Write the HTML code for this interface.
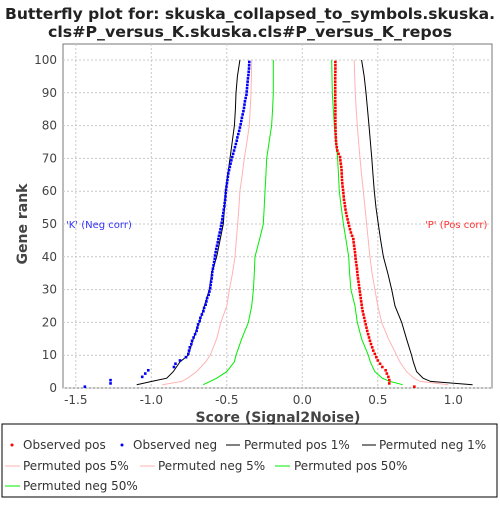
<!DOCTYPE html>
<html><head><meta charset="utf-8"><style>
body{margin:0;background:#fff;}
svg text{font-family:"DejaVu Sans","Liberation Sans",sans-serif;}
</style></head><body>
<svg id="chart" width="500" height="500" xmlns="http://www.w3.org/2000/svg">
<text x="250" y="19" text-anchor="middle" font-size="15" font-weight="bold" fill="#222" textLength="490" lengthAdjust="spacingAndGlyphs">Butterfly plot for: skuska_collapsed_to_symbols.skuska.</text>
<text x="250" y="37" text-anchor="middle" font-size="15" font-weight="bold" fill="#222" textLength="404" lengthAdjust="spacingAndGlyphs">cls#P_versus_K.skuska.cls#P_versus_K_repos</text>
<rect x="63" y="44" width="429" height="344" fill="#fff" stroke="#777"/>
<g id="grid"></g><g id="series"></g><g id="axes"></g>
<text x="66" y="228" font-size="10" fill="#3333ff">'K' (Neg corr)</text>
<text x="425" y="228" font-size="10" fill="#ff3333">'P' (Pos corr)</text>
<text x="278" y="422" text-anchor="middle" font-size="14" font-weight="bold" fill="#444">Score (Signal2Noise)</text>
<text transform="translate(27,224) rotate(-90)" text-anchor="middle" font-size="14" font-weight="bold" fill="#444">Gene rank</text>
<g>
<rect x="2" y="424" width="495" height="73" fill="#fff" stroke="#000"/>
<g><circle cx="12" cy="445" r="1.5" fill="red"/><text x="23" y="449" font-size="12" fill="#333">Observed pos</text></g>
<g><circle cx="122" cy="445" r="1.5" fill="blue"/><text x="133" y="449" font-size="12" fill="#333">Observed neg</text></g>
<g><line x1="226" y1="445" x2="240" y2="445" stroke="#000"/><text x="244" y="449" font-size="12" fill="#333">Permuted pos 1%</text></g>
<g><line x1="362" y1="445" x2="376" y2="445" stroke="#000"/><text x="379" y="449" font-size="12" fill="#333">Permuted neg 1%</text></g>
<g><line x1="5" y1="466" x2="20" y2="466" stroke="#ffb3b3"/><text x="23" y="470" font-size="12" fill="#333">Permuted pos 5%</text></g>
<g><line x1="140" y1="466" x2="155" y2="466" stroke="#ffb3b3"/><text x="158" y="470" font-size="12" fill="#333">Permuted neg 5%</text></g>
<g><line x1="275" y1="466" x2="290" y2="466" stroke="#00ee00"/><text x="294" y="470" font-size="12" fill="#333">Permuted pos 50%</text></g>
<g><line x1="5" y1="486" x2="20" y2="486" stroke="#00ee00"/><text x="23" y="490" font-size="12" fill="#333">Permuted neg 50%</text></g>
</g>
</svg>
<script>
const xTicks=[-1.5,-1.0,-0.5,0.0,0.5,1.0];
const yTicks=[0,10,20,30,40,50,60,70,80,90,100];
const observedNeg=[-1.44,-1.27,-1.27,-1.06,-1.04,-1.02,-0.85,-0.84,-0.81,-0.77,-0.755,-0.75,-0.745,-0.735,-0.73,-0.72,-0.71,-0.70,-0.695,-0.69,-0.68,-0.675,-0.665,-0.655,-0.65,-0.64,-0.635,-0.63,-0.62,-0.615,-0.61,-0.607,-0.604,-0.60,-0.598,-0.596,-0.592,-0.588,-0.584,-0.58,-0.578,-0.574,-0.57,-0.565,-0.56,-0.556,-0.552,-0.547,-0.542,-0.538,-0.534,-0.53,-0.527,-0.523,-0.52,-0.516,-0.514,-0.511,-0.509,-0.507,-0.505,-0.502,-0.499,-0.496,-0.493,-0.49,-0.485,-0.48,-0.475,-0.47,-0.464,-0.458,-0.452,-0.446,-0.44,-0.434,-0.43,-0.424,-0.418,-0.413,-0.408,-0.404,-0.40,-0.395,-0.39,-0.386,-0.383,-0.38,-0.375,-0.37,-0.368,-0.366,-0.364,-0.362,-0.36,-0.357,-0.355,-0.353,-0.352,-0.351];
const observedPos=[0.742,0.576,0.576,0.57,0.56,0.552,0.53,0.515,0.5,0.49,0.48,0.47,0.463,0.455,0.448,0.442,0.436,0.43,0.425,0.42,0.415,0.41,0.405,0.40,0.396,0.393,0.39,0.387,0.384,0.381,0.378,0.375,0.372,0.369,0.366,0.364,0.362,0.359,0.356,0.353,0.351,0.349,0.346,0.343,0.34,0.338,0.33,0.322,0.316,0.31,0.305,0.3,0.295,0.29,0.286,0.283,0.28,0.276,0.274,0.272,0.27,0.267,0.265,0.263,0.262,0.261,0.26,0.258,0.255,0.252,0.25,0.24,0.232,0.228,0.225,0.223,0.222,0.221,0.22,0.22,0.219,0.219,0.219,0.219,0.219,0.219,0.219,0.218,0.218,0.218,0.218,0.218,0.218,0.218,0.218,0.218,0.219,0.219,0.219,0.219];
const permRanks=[1,2,3,5,8,10,15,20,25,30,35,40,45,50,55,60,65,70,75,80,85,90,95,100];
const posP1=[1.128,0.85,0.80,0.757,0.735,0.724,0.69,0.658,0.614,0.592,0.566,0.537,0.519,0.503,0.488,0.477,0.468,0.46,0.451,0.442,0.432,0.422,0.41,0.393];
const negP1=[-1.097,-0.997,-0.898,-0.854,-0.81,-0.755,-0.722,-0.682,-0.649,-0.616,-0.6,-0.567,-0.545,-0.523,-0.515,-0.508,-0.494,-0.479,-0.464,-0.45,-0.443,-0.439,-0.43,-0.413];
const posP5=[0.967,0.78,0.74,0.69,0.645,0.625,0.57,0.526,0.5,0.481,0.462,0.448,0.437,0.426,0.415,0.404,0.393,0.382,0.373,0.364,0.357,0.351,0.347,0.344];
const negP5=[-0.927,-0.799,-0.76,-0.70,-0.64,-0.61,-0.567,-0.54,-0.5,-0.483,-0.462,-0.446,-0.437,-0.428,-0.42,-0.413,-0.398,-0.384,-0.367,-0.351,-0.345,-0.34,-0.337,-0.335];
const posP50=[0.665,0.58,0.53,0.48,0.45,0.437,0.393,0.364,0.349,0.322,0.313,0.307,0.29,0.272,0.258,0.245,0.24,0.234,0.223,0.212,0.205,0.199,0.197,0.195];
const negP50=[-0.656,-0.61,-0.567,-0.5,-0.45,-0.439,-0.401,-0.357,-0.335,-0.324,-0.318,-0.313,-0.285,-0.258,-0.252,-0.247,-0.241,-0.236,-0.22,-0.203,-0.197,-0.192,-0.192,-0.192];
const NS='http://www.w3.org/2000/svg';
function X(v){return 302.3+v*151;}
function Y(r){return 388-r*3.28;}
function mk(tag,attrs,parent){const e=document.createElementNS(NS,tag);for(const k in attrs)e.setAttribute(k,attrs[k]);parent.appendChild(e);return e;}
const grid=document.getElementById('grid'),axes=document.getElementById('axes'),ser=document.getElementById('series');
xTicks.forEach(t=>{
 const l=mk('line',{x1:X(t),x2:X(t),y1:44,y2:388,stroke:'#c8c8c8','stroke-dasharray':'2,2'},grid);
 
 
 const tx=mk('text',{x:X(t),y:404,'text-anchor':'middle','font-size':12,fill:'#444'},axes);
 tx.textContent=t.toFixed(1);
 
 
});
yTicks.forEach(t=>{
 const l=mk('line',{x1:63,x2:492,y1:Y(t),y2:Y(t),stroke:'#c8c8c8','stroke-dasharray':'2,2'},grid);
 
 
 const tx=mk('text',{x:57,y:Y(t)+4,'text-anchor':'end','font-size':12,fill:'#444'},axes);
 tx.textContent=t;
 
 
});
function line(vals,color,name){
 const d=vals.map((v,i)=>(i?'L':'M')+X(v).toFixed(1)+','+Y(permRanks[i]).toFixed(1)).join(' ');
 const p=mk('path',{d:d,fill:'none',stroke:color,'stroke-width':1},ser);
 
 
}
line(posP50,'#00ee00','permuted-pos-50-line');
line(negP50,'#00ee00','permuted-neg-50-line');
line(posP5,'#ffb3b3','permuted-pos-5-line');
line(negP5,'#ffb3b3','permuted-neg-5-line');
line(posP1,'#000','permuted-pos-1-line');
line(negP1,'#000','permuted-neg-1-line');
function dots(vals,color,name){
 vals.forEach((v,i)=>{
  const c=mk('rect',{x:X(v)-1.3,y:Y(i+0.4)-1.3,width:2.6,height:2.6,fill:color},ser);
  
  
 });
}
dots(observedNeg,'#0000ff','observed-neg-point');
dots(observedPos,'#ff0000','observed-pos-point');
</script>
</body></html>
